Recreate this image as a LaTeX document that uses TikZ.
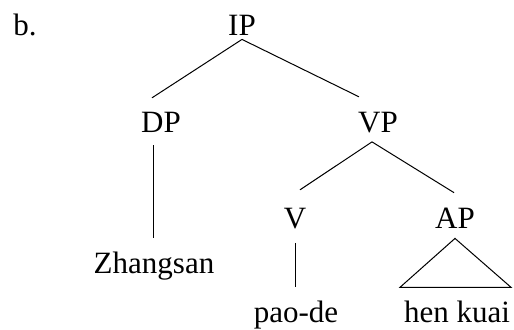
\documentclass[tikz,border=0pt]{standalone}
\usepackage{fontspec}
\setmainfont{Liberation Serif}
\usetikzlibrary{positioning}
\tikzset{
  cat/.style={inner sep=0pt, anchor=base, font=\fontsize{15.5}{18}\selectfont},
  br/.style={line width=0.5pt}
}

\begin{document}
\begin{tikzpicture}[x=0.5pt,y=-0.5pt]
	\useasboundingbox (0,0) rectangle (514,329);
	\node[cat, anchor=base west] (ex) at (13,35) {b.};
	\node[cat] (ip) at (242,35) {IP};
	\node[cat] (dp) at (161,132) {DP};
	\node[cat] (vp) at (378,132) {VP};
	\node[cat] (zhangsan) at (154,273) {Zhangsan};
	\node[cat] (v) at (295,228) {V};
	\node[cat] (ap) at (455,228) {AP};
	\node[cat] (paode) at (296,322) {pao-de};
	\node[cat] (henkuai) at (457,322) {hen kuai};
	% branches
	\draw[br] ([yshift=-2pt]ip.south) -- ([xshift=-4.5pt,yshift=6.75pt]dp.north);
	\draw[br] ([yshift=-2pt]ip.south) -- ([xshift=-9.5pt,yshift=7.25pt]vp.north);
	\draw[br] ([xshift=-4pt,yshift=-6.5pt]dp.south) -- ([xshift=-0.5pt,yshift=6.4pt]zhangsan.north);
	\draw[br] ([xshift=-3pt,yshift=-4.5pt]vp.south) -- ([xshift=2.5pt,yshift=8.75pt]v.north);
	\draw[br] ([xshift=-3pt,yshift=-4.5pt]vp.south) -- ([xshift=-0.5pt,yshift=7.25pt]ap.north);
	\draw[br] ([yshift=-7pt]v.south) -- ([xshift=-0.5pt,yshift=6.4pt]paode.north);
	% triangle
	\draw[br] ([yshift=-5pt]ap.south) -- ([xshift=-28.5pt,yshift=6.4pt]henkuai.north)
		-- ([xshift=27pt,yshift=6.4pt]henkuai.north) -- cycle;
\end{tikzpicture}
\end{document}
